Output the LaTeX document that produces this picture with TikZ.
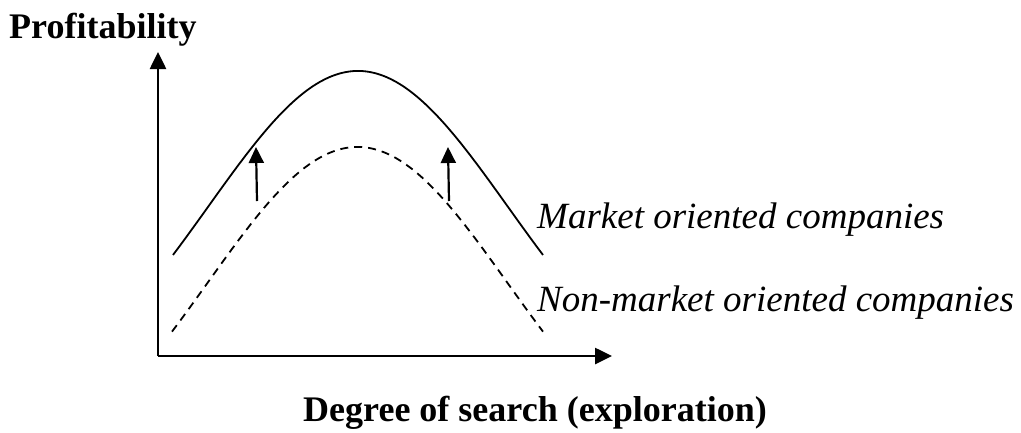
\documentclass[tikz,border=0pt]{standalone}
\usepackage{fontspec}
\setmainfont{Liberation Serif}
\usetikzlibrary{arrows.meta}
\tikzset{
  axisline/.style={line width=2.6pt,-{Triangle[length=17pt,width=16pt]}},
  shiftarrow/.style={line width=2.2pt,-{Triangle[length=16pt,width=15pt]}},
  curve/.style={line width=1.8pt},
  dashcurve/.style={line width=1.8pt,dash pattern=on 8pt off 6pt},
  lbl/.style={inner sep=0pt,font=\fontsize{36}{40}\selectfont},
  ilbl/.style={inner sep=0pt,font=\fontsize{37}{41}\selectfont\itshape},
}
\begin{document}
\begin{tikzpicture}[x=1pt,y=-1pt]
\useasboundingbox (0,0) rectangle (1021,432);
% axes
\coordinate (O) at (158,356);
\coordinate (ytip) at (158,52);
\coordinate (xtip) at (612,356);
\draw[axisline] (O) -- (ytip);
\draw[axisline] (O) -- (xtip);
% curves
\draw[curve] plot[domain=173:543,samples=120,smooth] (\x,{71+345.5*(1-exp(-(((\x-358)/100)^2)/4.5))});
\draw[dashcurve] plot[domain=172:543,samples=120,smooth] (\x,{147+345.5*(1-exp(-(((\x-357.5)/100)^2)/4.5))});
% shift arrows
\coordinate (a1s) at (257,201);
\coordinate (a1e) at (256,147);
\coordinate (a2s) at (449,201);
\coordinate (a2e) at (448,147);
\draw[shiftarrow] (a1s) -- (a1e);
\draw[shiftarrow] (a2s) -- (a2e);
% labels
\node[lbl,anchor=base west] (ylab) at (9,38) {\textbf{Profitability}};
\node[lbl,anchor=base] (xlab) at (535,421) {\textbf{Degree of search (exploration)}};
\node[ilbl,anchor=base west] (mkt) at (537,228) {Market oriented companies};
\node[ilbl,anchor=base west] (nmkt) at (537,311) {Non-market oriented companies};
\end{tikzpicture}
\end{document}
